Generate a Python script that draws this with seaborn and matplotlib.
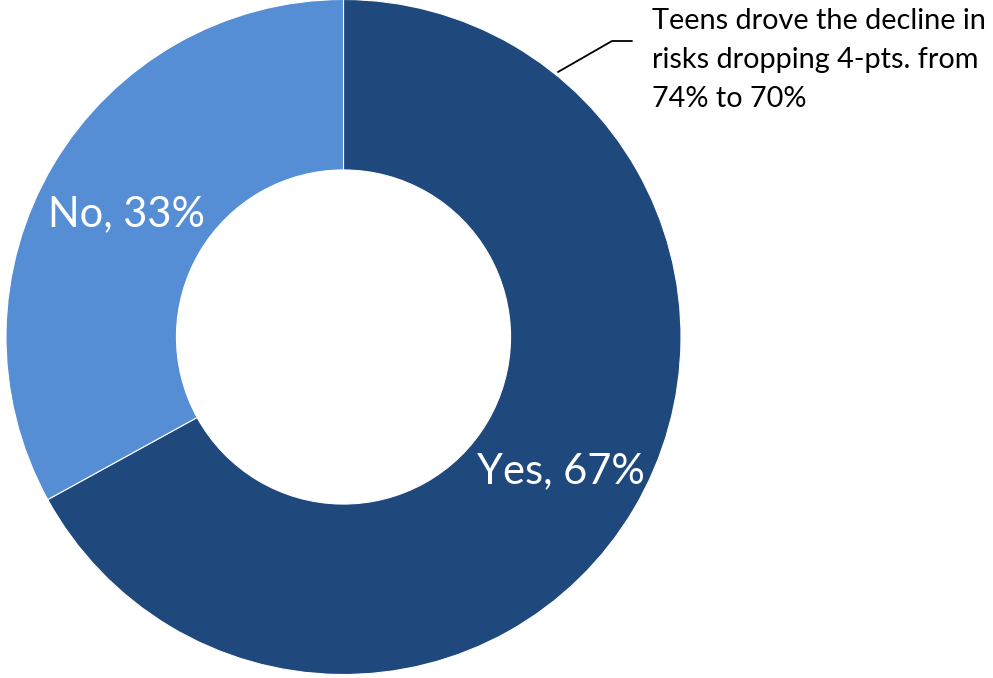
import matplotlib
matplotlib.use("Agg")
import matplotlib.pyplot as plt
import seaborn as sns

categories = ["Yes", "No"]
values = [67, 33]
colors = ["#1F497D", "#558ED5"]
note_lines = ["Teens drove the decline in", "risks dropping 4-pts. from", "74% to 70%"]

sns.set_theme(style="white")
plt.rcParams['font.family'] = ['Lato', 'DejaVu Sans']

W, H = 993, 678
fig = plt.figure(figsize=(W / 100, H / 100), dpi=100)
ax = fig.add_axes([0, 0, 1, 1])

cx, cy, R = 343.5, H - 337, 337.5
wedges, _ = ax.pie(values, colors=colors, startangle=90, counterclock=False,
                   center=(cx, cy), radius=R, frame=True,
                   wedgeprops=dict(width=R * 0.505, edgecolor='white', linewidth=0.8))
ax.set_xlim(0, W)
ax.set_ylim(0, H)
ax.set_aspect('equal')
ax.axis('off')

ax.text(127, H - 214, f"{categories[1]}, {values[1]}%", color='white', fontsize=30,
        ha='center', va='center')
ax.text(561, H - 471, f"{categories[0]}, {values[0]}%", color='white', fontsize=30,
        ha='center', va='center')

ax.plot([558, 612, 632], [H - 72, H - 41, H - 41], color='black', lw=1.3)
for i, line in enumerate(note_lines):
    ax.text(652, H - (29 + 39 * i), line, fontsize=20.8, ha='left', va='baseline',
            color='black')

fig.savefig("out.png", dpi=100)
